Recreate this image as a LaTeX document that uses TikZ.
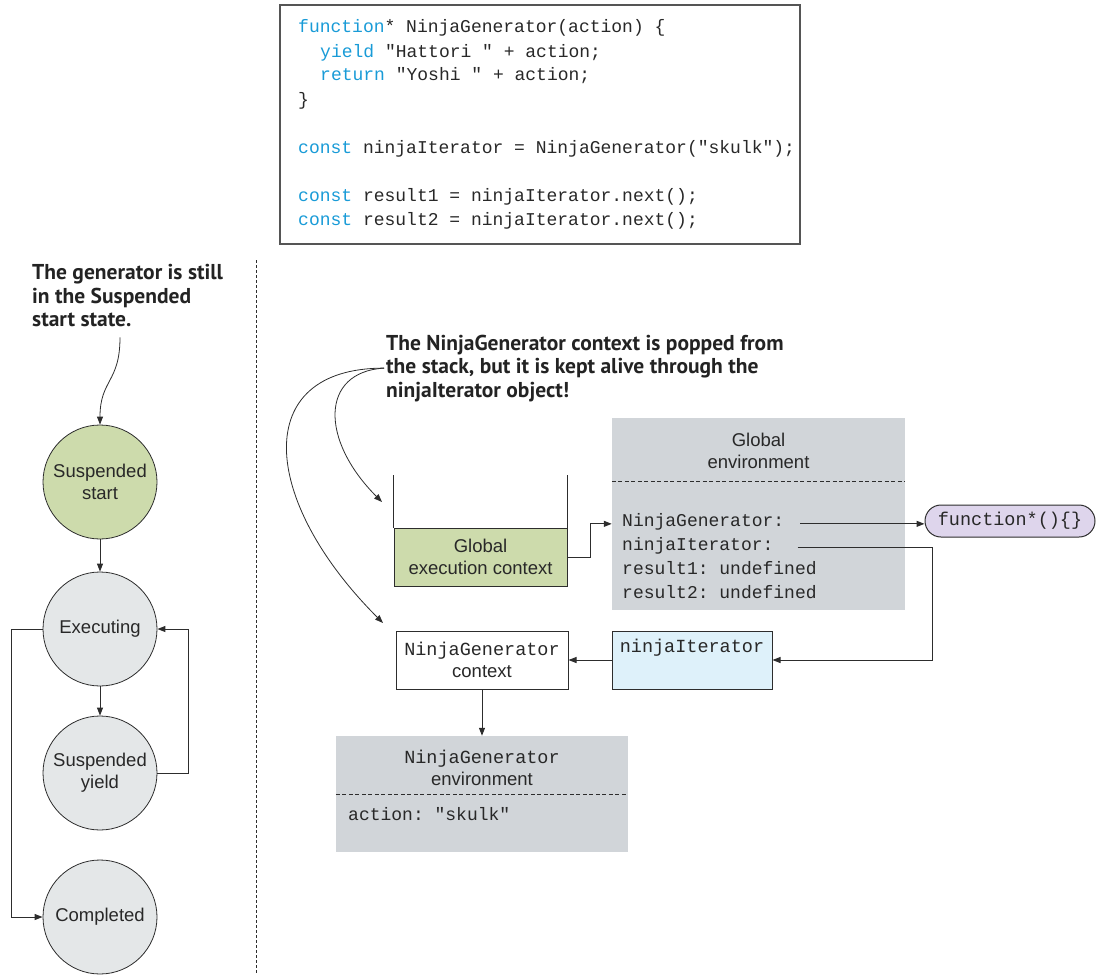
\documentclass[tikz,border=0pt]{standalone}
\usepackage{fontspec}
\setsansfont{Liberation Sans}
\setmonofont{Liberation Mono}
\newfontfamily\notefont{PT Sans}
\usetikzlibrary{arrows.meta,positioning}
\definecolor{kwblue}{RGB}{25,155,215}
\definecolor{textgray}{RGB}{40,40,40}
\definecolor{notegray}{RGB}{35,35,35}
\definecolor{linegray}{RGB}{45,45,45}
\definecolor{codeframe}{RGB}{85,85,85}
\definecolor{startgreen}{RGB}{205,219,172}
\definecolor{stategray}{RGB}{228,231,232}
\definecolor{envgray}{RGB}{209,213,217}
\definecolor{iterblue}{RGB}{222,241,250}
\definecolor{fnpurple}{RGB}{222,213,236}
\newcommand{\kw}[1]{\textcolor{kwblue}{#1}}
\newcommand{\codesize}{\fontsize{18}{24}\selectfont}
\newcommand{\labelsize}{\fontsize{18.5}{22}\selectfont}
\newcommand{\notesize}{\fontsize{21.5}{23.5}\selectfont}

\begin{document}
\begin{tikzpicture}[x=1pt,y=-1pt,
  line/.style={draw=linegray, line width=1pt},
  link/.style={line, -{Triangle[length=8pt,width=6pt]}},
  state/.style={circle, draw=linegray, line width=0.8pt, fill=stategray, minimum size=114pt,
    inner sep=0pt, font=\sffamily\labelsize, align=center, text=textgray},
  box/.style={draw=linegray, line width=1pt, inner sep=0pt, font=\sffamily\labelsize,
    align=center, text=textgray},
  env/.style={fill=envgray, inner sep=0pt},
  codeline/.style={anchor=base west, inner sep=0pt, font=\ttfamily\codesize, text=textgray},
  note/.style={anchor=north west, inner sep=0pt, align=left, font=\notefont\bfseries\notesize, text=notegray},
  sep/.style={draw=linegray, line width=0.8pt, dash pattern=on 4pt off 2.5pt}]
\useasboundingbox (0,0) rectangle (1097,974);

% listing
\node[draw=codeframe, line width=1.5pt, minimum width=520pt, minimum height=239pt, inner sep=0pt] (listing) at (540,124.5) {};
\node[codeline] (c1) at (298,33) {\kw{function}* NinjaGenerator(action) \{};
\node[codeline] (c2) at (320,57) {\kw{yield} "Hattori " + action;};
\node[codeline] (c3) at (320,81) {\kw{return} "Yoshi " + action;};
\node[codeline] (c4) at (298,105) {\}};
\node[codeline] (c5) at (298,153) {\kw{const} ninjaIterator = NinjaGenerator("skulk");};
\node[codeline] (c6) at (298,201) {\kw{const} result1 = ninjaIterator.next();};
\node[codeline] (c7) at (298,225) {\kw{const} result2 = ninjaIterator.next();};

% separator
\draw[line, dash pattern=on 3pt off 2pt] (256,260) -- (256,974);

% generator states
\node[note] (lnote) at (32,264.5) {The generator is still\\in the Suspended\\start state.};
\node[state, fill=startgreen] (ss) at (100,482) {Suspended\\start};
\node[state] (ex) at (100,629) {Executing};
\node[state] (sy) at (100,773) {Suspended\\yield};
\node[state] (done) at (100,917) {Completed};

\draw[link, line width=0.8pt] ([xshift=88pt,yshift=-10pt]lnote.south west) .. controls +(0,45) and +(0,-45) .. (ss.north);
\draw[link] (ss) -- (ex);
\draw[link] (ex) -- (sy);
\draw[link] (sy.east) -- ++(31,0) |- (ex.east);
\draw[link] (ex.west) -- ++(-31,0) |- (done.west);

% callout
\node[note] (rnote) at (386,334.5) {The NinjaGenerator context is popped from\\the stack, but it is kept alive through the\\ninjaIterator object!};
\coordinate (stacktip) at (382,502);
\coordinate (ctxtip) at (383,623);
\draw[link, line width=0.8pt] ([xshift=-2pt]rnote.west) .. controls (320,372) and (320,440) .. (stacktip);
\draw[link, line width=0.8pt] ([xshift=-2pt]rnote.west) .. controls (250,368) and (260,500) .. (ctxtip);

% execution context stack
\node[box, fill=startgreen, minimum width=173pt, minimum height=58pt] (gctx) at (480.5,557) {Global\\execution context};
\draw[line] (gctx.north west) -- ++(0,-53);
\draw[line] (gctx.north east) -- ++(0,-53);

% global environment
\node[env, minimum width=293pt, minimum height=192pt] (genv) at (758.5,514) {};
\node[font=\sffamily\labelsize, align=center, text=textgray] (gtitle) at (758.5,451) {Global\\environment};
\draw[sep] ([yshift=-64pt]genv.north west) -- ([yshift=-64pt]genv.north east);
\node[codeline] (r1) at (622,526) {NinjaGenerator:};
\node[codeline] (r2) at (622,550) {ninjaIterator:};
\node[codeline] (r3) at (622,574) {result1: undefined};
\node[codeline] (r4) at (622,598) {result2: undefined};
\draw[link] (gctx.east) -- ++(23,0) |- (genv.west |- r1.mid west);

\node[box, font=\ttfamily\labelsize, fill=fnpurple, rounded corners=16pt, minimum width=170pt, minimum height=32pt] (fn) at (1010,521) {function*()\{\}};
\draw[link] ([xshift=16pt]r1.mid east) -- (fn.west |- r1.mid east);

% generator object and its context
\node[box, font=\ttfamily\labelsize, fill=iterblue, minimum width=160pt, minimum height=58pt] (iter) at (692,660) {ninjaIterator\\\strut};
\node[box, fill=white, minimum width=172pt, minimum height=58pt] (ctx) at (482,660) {{\ttfamily NinjaGenerator}\\context};
\draw[link] ([xshift=24pt]r2.mid east) -| ([xshift=160pt]iter.east) -- (iter.east);
\draw[link] (iter) -- (ctx);

\node[env, minimum width=292pt, minimum height=116pt] (nenv) at (482,794) {};
\draw[link] (ctx) -- (nenv);
\node[font=\sffamily\labelsize, align=center, text=textgray] (ntitle) at (482,768) {{\ttfamily NinjaGenerator}\\environment};
\draw[sep] (nenv.west) -- (nenv.east);
\node[codeline] (a1) at (348,820) {action: "skulk"};
\end{tikzpicture}
\end{document}
